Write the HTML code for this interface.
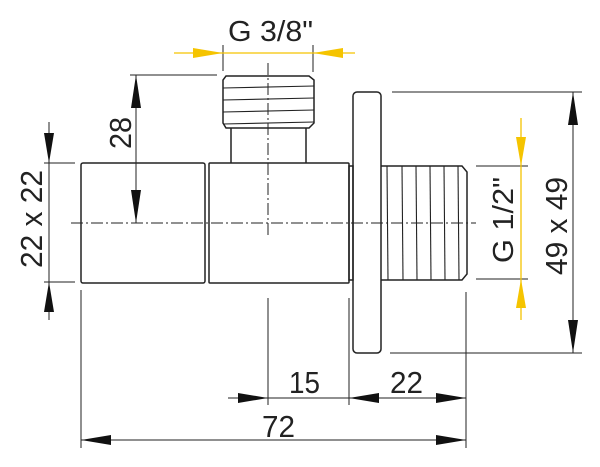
<!DOCTYPE html>
<html><head><meta charset="utf-8"><style>html,body{margin:0;padding:0;background:#fff}svg{display:block}</style></head><body>
<svg width="600" height="467" viewBox="0 0 600 467" xmlns="http://www.w3.org/2000/svg" font-family="Liberation Sans, sans-serif">
<g fill="none" stroke="#222" stroke-width="1.5">
<rect x="81" y="163" width="124" height="120" rx="2"/>
<rect x="209" y="163" width="140" height="120" rx="1"/>
<rect x="349" y="166" width="4" height="114"/>
<rect x="353" y="92" width="28" height="261" rx="4"/>
<path d="M381 166 H462 L467 172 V274 L462 280 H381"/>
<g stroke-width="1.1">
<line x1="387" y1="166" x2="388" y2="280"/><line x1="402" y1="166" x2="403" y2="280"/>
<line x1="416" y1="166" x2="417" y2="280"/><line x1="430" y1="166" x2="431" y2="280"/>
<line x1="444" y1="166" x2="445" y2="280"/><line x1="458" y1="166" x2="459" y2="280"/>
</g>
<path d="M226 76 H309 L314 80 V123 L309 128 H226 L223 123 V80 Z"/>
<g stroke-width="1.1">
<line x1="223" y1="88" x2="314" y2="86"/><line x1="223" y1="100" x2="314" y2="98"/>
<line x1="223" y1="112" x2="314" y2="110"/><line x1="223" y1="124" x2="314" y2="122"/>
</g>
<path d="M231 128 V163 M306 128 V163"/>
</g>
<g stroke="#222" stroke-width="1" stroke-dasharray="12,3,2,3" fill="none">
<line x1="71" y1="223" x2="476" y2="223"/>
<line x1="268" y1="63" x2="268" y2="235"/>
</g>
<g stroke="#222" stroke-width="1" fill="none">
<line x1="130" y1="75" x2="217" y2="75"/>
<line x1="136" y1="75" x2="136" y2="223"/>
<line x1="44" y1="163" x2="75" y2="163"/>
<line x1="44" y1="282" x2="75" y2="282"/>
<line x1="49" y1="122" x2="49" y2="320"/>
<line x1="392" y1="92" x2="582" y2="92"/>
<line x1="390" y1="353" x2="582" y2="353"/>
<line x1="573" y1="92" x2="573" y2="353"/>
<line x1="476" y1="166" x2="528" y2="166"/>
<line x1="476" y1="279" x2="528" y2="279"/>
<line x1="223" y1="45" x2="223" y2="71"/>
<line x1="313" y1="45" x2="313" y2="72"/>
<line x1="81" y1="290" x2="81" y2="448"/>
<line x1="268" y1="298" x2="268" y2="405"/>
<line x1="349" y1="298" x2="349" y2="405"/>
<line x1="466" y1="292" x2="466" y2="448"/>
<line x1="228" y1="398" x2="466" y2="398"/>
<line x1="81" y1="440" x2="466" y2="440"/>
</g>
<g fill="#111">
<polygon points="136,75 131,108 141,108"/>
<polygon points="136,223 131,190 141,190"/>
<polygon points="49,163 44,133 54,133"/>
<polygon points="49,282 44,312 54,312"/>
<polygon points="573,92 568,125 578,125"/>
<polygon points="573,353 568,320 578,320"/>
<polygon points="268,398 238,393 238,403"/>
<polygon points="349,398 379,393 379,403"/>
<polygon points="466,398 436,393 436,403"/>
<polygon points="81,440 111,435 111,445"/>
<polygon points="466,440 436,435 436,445"/>
</g>
<g stroke="#f5c400" stroke-width="1.3">
<line x1="174" y1="53" x2="355" y2="53"/>
<line x1="521" y1="118" x2="521" y2="320"/>
</g>
<g fill="#f5c400">
<polygon points="223,53 193,48 193,58"/>
<polygon points="313,53 343,48 343,58"/>
<polygon points="521,166 516,137 526,137"/>
<polygon points="521,279 516,308 526,308"/>
</g>
<g fill="#222" font-size="29">
<text x="228" y="41" textLength="85" lengthAdjust="spacingAndGlyphs">G 3/8"</text>
<text x="289" y="393" font-size="31" textLength="31" lengthAdjust="spacingAndGlyphs">15</text>
<text x="390" y="393" font-size="31" textLength="33" lengthAdjust="spacingAndGlyphs">22</text>
<text x="262" y="437" font-size="31" textLength="33" lengthAdjust="spacingAndGlyphs">72</text>
<text transform="translate(131,149) rotate(-90)" font-size="31" textLength="32" lengthAdjust="spacingAndGlyphs">28</text>
<text transform="translate(42,268) rotate(-90)" font-size="31" textLength="98" lengthAdjust="spacingAndGlyphs">22 x 22</text>
<text transform="translate(567,275) rotate(-90)" font-size="31" textLength="98" lengthAdjust="spacingAndGlyphs">49 x 49</text>
<text transform="translate(513,263) rotate(-90)" font-size="29" textLength="86" lengthAdjust="spacingAndGlyphs">G 1/2"</text>
</g>
</svg>
</body></html>
